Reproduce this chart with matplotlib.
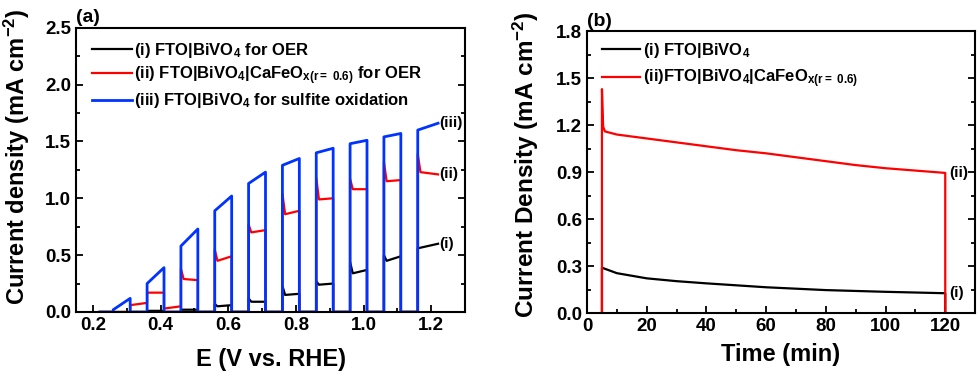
import numpy as np
import matplotlib
matplotlib.use("Agg")
import matplotlib.pyplot as plt
from matplotlib.ticker import MultipleLocator

plt.rcParams['font.family'] = ['Liberation Sans', 'DejaVu Sans']
plt.rcParams['font.weight'] = 'bold'
plt.rcParams['mathtext.fontset'] = 'custom'
plt.rcParams['mathtext.rm'] = 'Liberation Sans:bold'
plt.rcParams['mathtext.bf'] = 'Liberation Sans:bold'
plt.rcParams['mathtext.it'] = 'Liberation Sans:bold'
plt.rcParams['mathtext.default'] = 'bf'

# ---------------- Panel (a): chopped LSV ----------------
E_bounds = [0.22, 0.26, 0.31, 0.36, 0.41, 0.46, 0.51, 0.56, 0.61, 0.66, 0.71,
            0.76, 0.81, 0.86, 0.91, 0.96, 1.01, 1.06, 1.11, 1.16, 1.22]
nan = np.nan
blue_start = [0, 0.02, 0, 0.25, 0, 0.58, 0, 0.89, 0, 1.13, 0, 1.29, 0, 1.40, 0, 1.48, 0, 1.54, 0, 1.60]
blue_end   = [0, 0.12, 0, 0.39, 0, 0.73, 0, 1.02, 0, 1.23, 0, 1.35, 0, 1.44, 0, 1.51, 0, 1.57, 0, 1.66]
blue_spike = [nan] * 20

red_start = [0, 0, 0.06, 0.17, 0.03, 0.29, 0, 0.45, 0, 0.70, 0, 0.86, 0, 0.99, 0, 1.08, 0, 1.15, 0, 1.23]
red_end   = [0, 0, 0.08, 0.17, 0.05, 0.28, 0, 0.49, 0, 0.72, 0, 0.89, 0, 1.00, 0, 1.08, 0, 1.16, 0, 1.21]
red_spike = [nan, nan, nan, nan, nan, 0.38, nan, 0.55, nan, 0.77, nan, 1.04, nan, 1.18, nan, 1.17, nan, 1.32, nan, 1.39]

black_start = [0, 0, 0, 0.01, 0, 0.02, 0, 0.05, 0, 0.09, 0, 0.15, 0, 0.24, 0, 0.34, 0, 0.45, 0, 0.56]
black_end   = [0, 0, 0, 0.01, 0, 0.02, 0, 0.06, 0, 0.09, 0, 0.16, 0, 0.25, 0, 0.37, 0, 0.49, 0, 0.60]
black_spike = [nan, nan, nan, nan, nan, nan, nan, 0.07, nan, 0.12, nan, 0.23, nan, 0.27, nan, 0.44, nan, 0.50, nan, nan]

labels_a = [r'(i) FTO|BiVO$_{4}$ for OER',
            r'(ii) FTO|BiVO$_{4}$|CaFeO$_{x(r=\ 0.6)}$ for OER',
            r'(iii) FTO|BiVO$_{4}$ for sulfite oxidation']
tags_a = ['(i)', '(ii)', '(iii)']

# ---------------- Panel (b): chronoamperometry ----------------
t_black = [0, 5, 5, 10, 20, 30, 40, 60, 80, 100, 120, 120, 130]
j_black = [0, 0, 0.29, 0.255, 0.222, 0.204, 0.19, 0.165, 0.147, 0.136, 0.127, 0, 0]
t_red = [0, 5, 5, 5.4, 6, 10, 20, 30, 40, 50, 60, 70, 80, 90, 100, 110, 120, 120, 130]
j_red = [0, 0, 1.43, 1.19, 1.16, 1.14, 1.115, 1.09, 1.065, 1.04, 1.02, 0.995, 0.97,
         0.945, 0.925, 0.91, 0.895, 0, 0]
labels_b = [r'(i) FTO|BiVO$_{4}$', r'(ii)FTO|BiVO$_{4}$|CaFeO$_{x(r=\ 0.6)}$']
tags_b = ['(i)', '(ii)']


def build(bounds, start, end, spike, dx=0.008):
    xs, ys = [], []
    for i in range(len(start)):
        e0, e1 = bounds[i], bounds[i + 1]
        if not np.isnan(spike[i]):
            xs += [e0, e0 + dx]
            ys += [spike[i], start[i]]
        else:
            xs.append(e0)
            ys.append(start[i])
        xs.append(e1)
        ys.append(end[i])
    return xs, ys


fig = plt.figure(figsize=(9.8, 3.8), dpi=100)
axa = fig.add_axes([0.0776, 0.179, 0.397, 0.748])
axb = fig.add_axes([0.599, 0.176, 0.396, 0.742])

colors = ['black', '#ff0000', '#0033ff']
lws = [1.6, 1.6, 2.0]
series = [(black_start, black_end, black_spike),
          (red_start, red_end, red_spike),
          (blue_start, blue_end, blue_spike)]
for (s, e, sp), c, lw, lab in zip(series, colors, lws, labels_a):
    xs, ys = build(E_bounds, s, e, sp)
    axa.plot(xs, ys, color=c, lw=lw, label=lab)
for tag, val in zip(tags_a, [black_end[-1], red_end[-1], blue_end[-1]]):
    axa.text(E_bounds[-1] + 0.005, val, tag, fontsize=11, fontweight='bold',
             ha='left', va='center')

axa.set_xlim(0.15, 1.3)
axa.set_ylim(0, 2.5)
axa.xaxis.set_major_locator(MultipleLocator(0.2))
axa.xaxis.set_minor_locator(MultipleLocator(0.1))
axa.yaxis.set_minor_locator(MultipleLocator(0.25))
axa.set_xlabel('E (V vs. RHE)', fontsize=17, fontweight='bold', labelpad=10)
axa.set_ylabel(r'Current density (mA cm$^{-2}$)', fontsize=17, fontweight='bold')
axa.yaxis.set_label_coords(-0.112, 0.545)
axa.legend(loc='upper left', frameon=False, fontsize=12, handlelength=2.4,
           handletextpad=0.15, borderaxespad=0.0, borderpad=0.0, labelspacing=0.28,
           bbox_to_anchor=(0.04, 0.955))
axa.text(0.0, 1.005, '(a)', transform=axa.transAxes, fontsize=14,
         fontweight='bold', ha='left', va='bottom')

axb.plot(t_black, j_black, color='black', lw=1.6, label=labels_b[0])
axb.plot(t_red, j_red, color='#ff0000', lw=1.6, label=labels_b[1])
axb.text(121.3, j_black[-3], tags_b[0], fontsize=11, fontweight='bold', ha='left', va='center')
axb.text(121.3, j_red[-3], tags_b[1], fontsize=11, fontweight='bold', ha='left', va='center')
axb.set_xlim(0, 130)
axb.set_ylim(0, 1.8)
axb.xaxis.set_major_locator(MultipleLocator(20))
axb.xaxis.set_minor_locator(MultipleLocator(10))
axb.yaxis.set_minor_locator(MultipleLocator(0.15))
axb.set_xlabel('Time (min)', fontsize=17, fontweight='bold', labelpad=6)
axb.set_ylabel(r'Current Density (mA cm$^{-2}$)', fontsize=17.5, fontweight='bold')
axb.yaxis.set_label_coords(-0.118, 0.525)
axb.legend(loc='upper left', frameon=False, fontsize=12, handlelength=2.3,
           handletextpad=0.15, borderaxespad=0.0, borderpad=0.0, labelspacing=0.45,
           bbox_to_anchor=(0.038, 0.965))
axb.text(0.0, 1.005, '(b)', transform=axb.transAxes, fontsize=14,
         fontweight='bold', ha='left', va='bottom')

for ax in (axa, axb):
    for sp in ax.spines.values():
        sp.set_linewidth(1.5)
    ax.tick_params(which='both', direction='in', top=False, right=True,
                   labelsize=13.5, width=1.3)
    ax.tick_params(which='major', length=5)
    ax.tick_params(which='minor', length=3)
axa.set_yticks([0, 0.5, 1.0, 1.5, 2.0, 2.5])
axa.set_yticklabels(['0.0', '0.5', '1.0', '1.5', '2.0', '2.5'])
axb.set_yticks([0, 0.3, 0.6, 0.9, 1.2, 1.5, 1.8])
axb.set_yticklabels(['0.0', '0.3', '0.6', '0.9', '1.2', '1.5', '1.8'])
for ax in (axa, axb):
    for lbl in ax.get_xticklabels() + ax.get_yticklabels():
        lbl.set_fontweight('bold')

fig.savefig('out.png', dpi=100)
